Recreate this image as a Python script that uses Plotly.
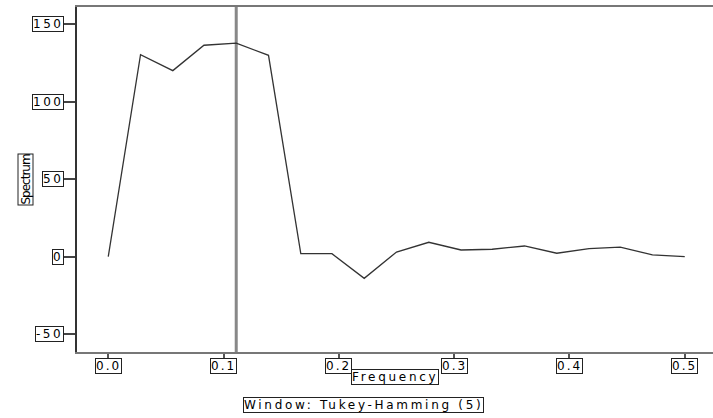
import plotly.graph_objects as go

# Data
frequency = [0.0, 0.028, 0.056, 0.083, 0.111, 0.139, 0.167, 0.194, 0.222, 0.25,
             0.278, 0.306, 0.333, 0.361, 0.389, 0.417, 0.444, 0.472, 0.5]
spectrum = [0.0, 130.5, 120.2, 136.6, 137.9, 130.1, 1.9, 1.9, -14.0, 3.0,
            9.3, 4.3, 4.8, 6.9, 2.2, 5.2, 6.1, 1.1, 0.0]

x_ticks = [0.0, 0.1, 0.2, 0.3, 0.4, 0.5]
x_tick_labels = ["0.0", "0.1", "0.2", "0.3", "0.4", "0.5"]
y_ticks = [150, 100, 50, 0, -50]
y_tick_labels = ["150", "100", "50", "0", "-50"]

x_title = "Frequency"
y_title = "Spectrum"
caption = "Window: Tukey-Hamming (5)"

peak_freq = frequency[spectrum.index(max(spectrum))]

FONT = "DejaVu Sans"


def spaced(t, px):
    return f'<span style="letter-spacing:{px}px">{t}</span>'


fig = go.Figure()
fig.add_trace(go.Scatter(x=frequency, y=spectrum, mode="lines",
                         line=dict(color="#333333", width=1.3),
                         showlegend=False, hoverinfo="skip"))

fig.add_shape(type="line", xref="x", yref="paper", x0=peak_freq, x1=peak_freq,
              y0=0, y1=1, line=dict(color="#888888", width=3), layer="below")

annotations = []
box = dict(bordercolor="#222222", borderwidth=1, borderpad=0,
           bgcolor="white", font=dict(family=FONT, size=12, color="black"),
           showarrow=False)
for v, t in zip(x_ticks, x_tick_labels):
    annotations.append(dict(x=v, y=0, xref="x", yref="paper", text=spaced(t, 2),
                            xanchor="center", yanchor="top", yshift=-6, **box))
for v, t in zip(y_ticks, y_tick_labels):
    annotations.append(dict(x=0, y=v, xref="paper", yref="y", text=spaced(t, 2.5),
                            xanchor="right", yanchor="middle", xshift=-13, **box))
annotations.append(dict(x=0, y=0.5, xref="paper", yref="paper", text=spaced(y_title, -1),
                        textangle=-90, xanchor="center", yanchor="middle",
                        xshift=-52, **box))
annotations.append(dict(x=0.5, y=0, xref="paper", yref="paper", text=spaced(x_title, 2.7),
                        xanchor="center", yanchor="middle", yshift=-25, **box))
annotations.append(dict(x=0.45, y=0, xref="paper", yref="paper", text=spaced(caption, 2.7),
                        xanchor="center", yanchor="middle", yshift=-53, **box))

fig.update_layout(
    width=713, height=418,
    margin=dict(l=77, r=0, t=7, b=66),
    paper_bgcolor="white", plot_bgcolor="white",
    annotations=annotations,
    xaxis=dict(range=[-0.0271, 0.5245], tickvals=x_ticks, showticklabels=False,
               ticks="outside", ticklen=6, tickwidth=1.5, tickcolor="#555555",
               showgrid=False, zeroline=False, showline=True, mirror=True,
               linecolor="#777777", linewidth=1.5),
    yaxis=dict(range=[-61.6, 161.3], tickvals=y_ticks, showticklabels=False,
               ticks="outside", ticklen=13, tickwidth=1.5, tickcolor="#444444",
               showgrid=False, zeroline=False, showline=True,
               linecolor="#333333", linewidth=2),
)

fig.write_html("out.html")
